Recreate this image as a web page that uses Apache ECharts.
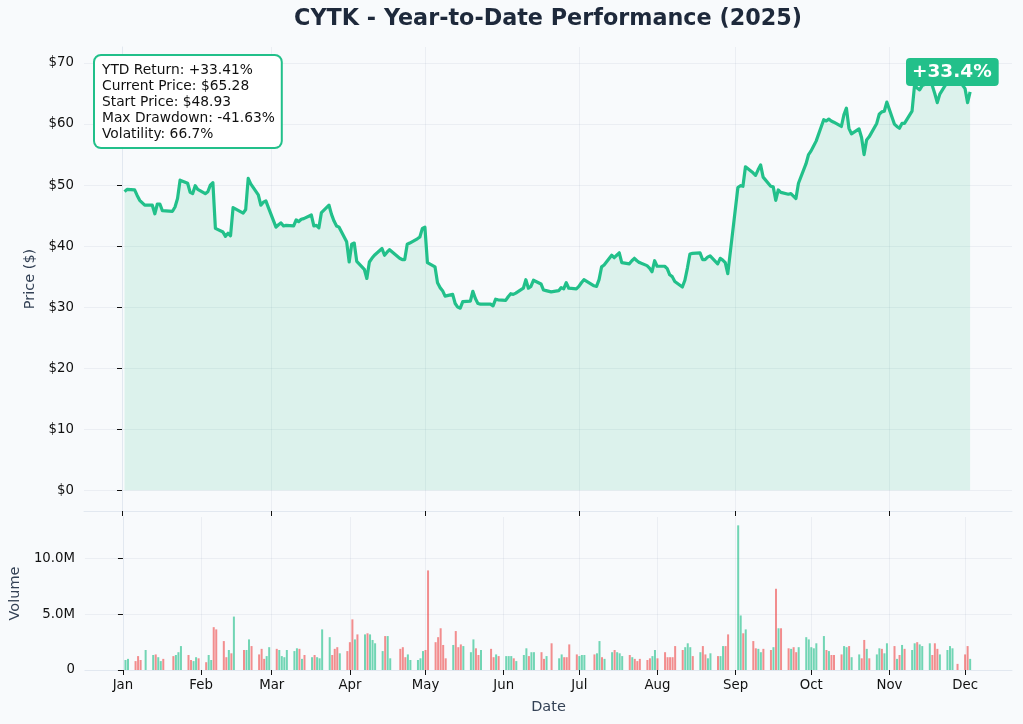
<!DOCTYPE html>
<html>
<head>
<meta charset="utf-8">
<script src="https://cdn.jsdelivr.net/npm/echarts@6/dist/echarts.min.js"></script>
<style>
html, body { margin: 0; padding: 0; background: #f8fafc; }
#chart { width: 1023px; height: 724px; }
</style>
</head>
<body>
<div id="chart"></div>
<script>
const year = 2025;
const monthNames = ['Jan', 'Feb', 'Mar', 'Apr', 'May', 'Jun', 'Jul', 'Aug', 'Sep', 'Oct', 'Nov', 'Dec'];

// trading days of each month, Jan..Dec
const tradingDays = [
    [2, 3, 6, 7, 8, 10, 13, 14, 15, 16, 17, 21, 22, 23, 24, 27, 28, 29, 30, 31],
    [3, 4, 5, 6, 7, 10, 11, 12, 13, 14, 18, 19, 20, 21, 24, 25, 26, 27, 28],
    [3, 4, 5, 6, 7, 10, 11, 12, 13, 14, 17, 18, 19, 20, 21, 24, 25, 26, 27, 28, 31],
    [1, 2, 3, 4, 7, 8, 9, 10, 11, 14, 15, 16, 17, 21, 22, 23, 24, 25, 28, 29, 30],
    [1, 2, 5, 6, 7, 8, 9, 12, 13, 14, 15, 16, 19, 20, 21, 22, 23, 27, 28, 29, 30],
    [2, 3, 4, 5, 6, 9, 10, 11, 12, 13, 16, 17, 18, 20, 23, 24, 25, 26, 27, 30],
    [1, 2, 3, 7, 8, 9, 10, 11, 14, 15, 16, 17, 18, 21, 22, 23, 24, 25, 28, 29, 30, 31],
    [1, 4, 5, 6, 7, 8, 11, 12, 13, 14, 15, 18, 19, 20, 21, 22, 25, 26, 27, 28, 29],
    [2, 3, 4, 5, 8, 9, 10, 11, 12, 15, 16, 17, 18, 19, 22, 23, 24, 25, 26, 29, 30],
    [1, 2, 3, 6, 7, 8, 9, 10, 13, 14, 15, 16, 17, 20, 21, 22, 23, 24, 27, 28, 29, 30, 31],
    [3, 4, 5, 6, 7, 10, 11, 12, 13, 14, 17, 18, 19, 20, 21, 24, 25, 26, 28],
    [1, 2, 3]
];

// closing price, one per trading day
const prices = [
    48.93, 49.3, 49.2, 48.3, 47.5, 46.7, 46.7, 45.3, 46.9, 46.9, 45.8, 45.7, 46.4, 47.8, 50.8, 50.3, 48.8, 48.6, 49.9, 49.3,
    48.6, 48.9, 50.0, 50.4, 42.9, 42.3, 41.6, 42.1, 41.7, 46.3, 45.4, 46.0, 51.1, 50.2, 48.4, 46.7, 47.2, 47.4, 46.3,
    43.1, 43.5, 43.8, 43.3, 43.4, 43.3, 44.3, 44.0, 44.4, 44.5, 45.1, 43.3, 43.4, 43.0, 45.5, 46.7, 45.2, 44.1, 43.3, 43.1, 40.7,
    37.4, 40.3, 40.5, 37.5, 36.2, 34.7, 37.4, 38.0, 38.5, 39.6, 38.5, 39.0, 39.4, 38.0, 37.8, 37.8, 40.3, 40.5, 41.2, 41.5, 42.9,
    43.1, 37.3, 36.6, 34.0, 33.2, 32.7, 31.8, 32.1, 30.6, 30.0, 29.83, 30.9, 31.0, 32.6, 31.4, 30.6, 30.5, 30.5, 30.2, 31.3, 31.2,
    31.1, 31.7, 32.2, 32.1, 32.3, 33.1, 34.5, 33.1, 33.4, 34.4, 33.8, 32.8, 32.7, 32.5, 32.7, 33.2, 33.0, 34.0, 33.1, 33.0,
    33.4, 34.0, 34.5, 33.5, 33.4, 34.5, 36.6, 36.9, 38.5, 38.1, 38.5, 38.9, 37.3, 37.1, 37.6, 38.0, 37.6, 37.3, 36.8, 36.4, 35.8, 37.6,
    36.7, 36.7, 36.3, 35.3, 35.0, 34.2, 33.3, 34.4, 36.4, 38.7, 38.8, 38.9, 37.8, 37.8, 38.2, 38.4, 37.1, 38.0, 37.7, 37.3, 35.5,
    49.6, 49.9, 49.8, 53.0, 52.0, 51.6, 52.5, 53.3, 51.3, 49.8, 49.7, 47.5, 49.2, 48.8, 48.5, 48.6, 48.2, 47.8, 50.3, 53.5, 55.0,
    55.6, 56.4, 57.2, 60.7, 60.5, 60.8, 60.5, 60.3, 59.6, 61.5, 62.6, 59.3, 58.4, 59.2, 57.8, 55.0, 57.4, 57.9, 60.1, 61.6, 62.0, 62.1, 63.6,
    60.0, 59.6, 59.3, 60.1, 60.1, 62.1, 66.4, 65.9, 65.6, 66.3, 66.8, 66.3, 65.0, 63.5, 64.9, 66.9, 67.4, 67.6, 67.5,
    65.8, 63.5, 65.28
];

// daily volume in millions
const volumesM = [
    0.9, 1.0, 0.8, 1.25, 0.9, 1.8, 1.35, 1.4, 1.15, 0.8, 1.0, 1.25, 1.35, 1.6, 2.15, 1.35, 0.9, 0.8, 1.15, 1.05,
    0.7, 1.35, 0.9, 3.85, 3.65, 2.6, 1.15, 1.8, 1.5, 4.8, 1.8, 1.8, 2.75, 2.15, 1.4, 1.9, 1.0, 1.25, 2.05,
    1.9, 1.8, 1.25, 1.15, 1.8, 1.7, 1.95, 1.9, 1.0, 1.35, 1.15, 1.35, 1.15, 1.05, 3.65, 2.95, 1.35, 1.9, 2.05, 1.5, 1.7,
    2.5, 4.55, 2.75, 3.2, 3.2, 3.3, 3.2, 2.7, 2.4, 1.7, 3.05, 3.05, 1.05, 1.9, 2.05, 1.15, 1.4, 0.9, 0.9, 1.05, 1.7,
    1.8, 8.95, 2.5, 2.95, 3.75, 2.25, 1.05, 2.25, 3.5, 2.05, 2.3, 2.15, 1.6, 2.75, 1.95, 1.35, 1.8, 1.9, 1.15, 1.4, 1.25,
    1.25, 1.25, 1.25, 1.05, 0.8, 1.35, 1.95, 1.25, 1.6, 1.6, 1.6, 1.0, 1.25, 2.4, 1.05, 1.4, 1.15, 1.15, 2.3, 1.4,
    1.25, 1.35, 1.35, 1.4, 1.5, 2.6, 1.15, 1.0, 1.6, 1.8, 1.6, 1.5, 1.25, 1.35, 1.15, 1.0, 0.8, 1.0, 0.9, 1.05, 1.25, 1.8,
    1.05, 1.6, 1.15, 1.15, 1.15, 2.15, 1.8, 2.05, 2.4, 2.05, 1.25, 1.6, 2.15, 1.4, 1.05, 1.5, 1.25, 1.25, 2.15, 2.15, 3.2,
    13.0, 4.9, 3.3, 3.65, 2.6, 1.95, 1.9, 1.6, 1.9, 1.8, 2.05, 7.3, 3.75, 3.75, 1.95, 1.9, 2.05, 1.6, 2.05, 2.95, 2.75,
    2.05, 1.95, 2.4, 3.05, 1.8, 1.7, 1.35, 1.35, 1.4, 2.15, 2.05, 2.15, 1.15, 1.4, 1.05, 2.7, 1.9, 1.05, 1.4, 1.95, 1.9, 1.5, 2.4,
    2.15, 1.0, 1.35, 2.25, 1.9, 1.8, 2.4, 2.5, 2.3, 2.15, 2.4, 1.35, 2.4, 1.9, 1.4, 1.8, 2.15, 1.95, 0.55,
    1.4, 2.15, 1.0
];

// 1 = up day (green bar), 0 = down day (red bar)
const volumeUp = [
    1, 1, 0, 0, 0, 1, 1, 0, 1, 1, 0, 0, 1, 1, 1, 0, 0, 1, 1, 0,
    0, 1, 1, 0, 0, 0, 0, 1, 0, 1, 0, 1, 1, 0, 0, 0, 0, 1, 1,
    0, 1, 1, 1, 1, 1, 1, 0, 1, 0, 1, 0, 1, 1, 1, 1, 0, 0, 0, 1, 0,
    0, 0, 1, 0, 1, 0, 1, 1, 1, 1, 0, 1, 1, 0, 0, 0, 1, 1, 1, 1, 1,
    0, 0, 0, 0, 0, 0, 0, 1, 0, 0, 0, 1, 1, 1, 0, 0, 1, 0, 0, 1, 0,
    1, 1, 1, 0, 1, 1, 1, 0, 1, 1, 0, 0, 1, 0, 1, 1, 0, 0, 0, 0,
    1, 1, 1, 0, 1, 1, 0, 1, 1, 0, 1, 1, 1, 0, 1, 0, 0, 0, 0, 0, 1, 1,
    0, 0, 0, 0, 0, 0, 0, 1, 1, 1, 0, 1, 0, 0, 1, 1, 0, 1, 1, 0, 0,
    1, 1, 0, 1, 0, 0, 1, 1, 0, 0, 1, 0, 1, 0, 0, 1, 0, 0, 1, 1, 1,
    1, 1, 1, 1, 0, 1, 0, 0, 0, 1, 1, 0, 1, 1, 0, 0, 1, 0, 1, 1, 0, 1, 1,
    0, 1, 0, 1, 0, 1, 1, 0, 1, 1, 1, 0, 0, 0, 1, 1, 1, 1, 0,
    0, 0, 1
];

const priceTicks = [0, 10, 20, 30, 40, 50, 60, 70];
const volumeTicks = [0, 5e6, 10e6];
const statsLines = [
    'YTD Return: +33.41%',
    'Current Price: $65.28',
    'Start Price: $48.93',
    'Max Drawdown: -41.63%',
    'Volatility: 66.7%'
];
const returnLabel = '+33.4%';

const DAY = 86400000;
const GREEN = '#22c08a';
const FONT = 'DejaVu Sans';
const yearStart = Date.UTC(year, 0, 1);

// x positions are days since Jan 1
const dayOf = (m, d) => (Date.UTC(year, m, d) - yearStart) / DAY;
const days = [];
tradingDays.forEach((list, m) => list.forEach(d => days.push(dayOf(m, d))));

const monthStarts = monthNames.map((_, m) => dayOf(m, 1));
const oddMonthStarts = monthStarts.filter((_, m) => m % 2 === 0);
const xMin = -15.06;
const xMax = 352.6;

const gridColor = 'rgba(148,163,184,0.13)';
const spineColor = '#e2e8f0';

function dayAxis(gridIndex, showLabels) {
    const ticks = showLabels ? monthStarts : oddMonthStarts;
    return {
        type: 'value',
        gridIndex: gridIndex,
        min: xMin,
        max: xMax,
        axisLine: { show: true, onZero: false, lineStyle: { color: spineColor, width: 1 } },
        axisTick: { show: true, length: 5, customValues: ticks, lineStyle: { color: '#111' } },
        axisLabel: {
            show: showLabels,
            customValues: ticks,
            color: '#111',
            fontFamily: FONT,
            fontSize: 13.3,
            margin: 9,
            formatter: v => monthNames[monthStarts.indexOf(v)]
        },
        splitLine: { show: true, lineStyle: { color: gridColor } },
        name: showLabels ? 'Date' : '',
        nameLocation: 'middle',
        nameGap: 30,
        nameTextStyle: { color: '#334155', fontFamily: FONT, fontSize: 14.5 }
    };
}

const chart = echarts.init(document.getElementById('chart'));

chart.setOption({
    backgroundColor: '#f8fafc',
    animation: false,
    grid: [
        { left: 84, right: 11, top: 47, height: 464 },
        { left: 84, right: 11, top: 517, height: 153 }
    ],
    xAxis: [dayAxis(0, false), dayAxis(1, true)],
    yAxis: [
        {
            type: 'value',
            gridIndex: 0,
            min: -3.4,
            max: 72.62,
            axisLine: { show: true, lineStyle: { color: spineColor } },
            axisTick: { show: true, length: 5, customValues: priceTicks, lineStyle: { color: '#111' } },
            axisLabel: {
                customValues: priceTicks,
                color: '#111',
                fontFamily: FONT,
                fontSize: 13.3,
                margin: 10,
                formatter: v => '$' + v
            },
            splitLine: { show: true, lineStyle: { color: gridColor } },
            name: 'Price ($)',
            nameLocation: 'middle',
            nameGap: 45,
            nameTextStyle: { color: '#334155', fontFamily: FONT, fontSize: 14.5 }
        },
        {
            type: 'value',
            gridIndex: 1,
            min: 0,
            max: 13.75e6,
            axisLine: { show: true, lineStyle: { color: spineColor } },
            axisTick: { show: true, length: 5, customValues: volumeTicks, lineStyle: { color: '#111' } },
            axisLabel: {
                customValues: volumeTicks,
                color: '#111',
                fontFamily: FONT,
                fontSize: 13.3,
                margin: 10,
                formatter: v => v === 0 ? '0' : (v / 1e6).toFixed(1) + 'M'
            },
            splitLine: { show: true, lineStyle: { color: gridColor } },
            name: 'Volume',
            nameLocation: 'middle',
            nameGap: 60,
            nameTextStyle: { color: '#334155', fontFamily: FONT, fontSize: 14.5 }
        }
    ],
    series: [
        {
            type: 'line',
            xAxisIndex: 0,
            yAxisIndex: 0,
            symbol: 'none',
            data: days.map((x, i) => [x, prices[i]]),
            lineStyle: { color: GREEN, width: 3.2, join: 'round' },
            areaStyle: { color: 'rgba(34,192,138,0.19)' },
            z: 3
        },
        {
            type: 'bar',
            xAxisIndex: 1,
            yAxisIndex: 1,
            barWidth: 2,
            data: days.map((x, i) => ({
                value: [x, volumesM[i] * 1e6],
                itemStyle: { color: volumeUp[i] ? 'rgba(34,192,138,0.63)' : 'rgba(239,68,68,0.6)' }
            }))
        }
    ],
    graphic: [
        {
            type: 'text',
            x: 548,
            y: 19,
            style: {
                text: 'CYTK - Year-to-Date Performance (2025)',
                fill: '#1e293b',
                font: 'bold 22.3px "DejaVu Sans"',
                align: 'center',
                verticalAlign: 'middle'
            }
        },
        {
            type: 'text',
            x: 95,
            y: 56,
            z: 10,
            style: {
                text: statsLines.join('\n'),
                fill: '#111',
                font: '13.8px "DejaVu Sans"',
                lineHeight: 16,
                backgroundColor: '#ffffff',
                borderColor: GREEN,
                borderWidth: 2,
                borderRadius: 6,
                padding: [6, 6, 5, 7]
            }
        },
        {
            type: 'text',
            x: 906,
            y: 58,
            z: 10,
            style: {
                text: returnLabel,
                fill: '#ffffff',
                font: 'bold 18.5px "DejaVu Sans"',
                backgroundColor: GREEN,
                borderRadius: 4,
                padding: [5, 7, 4, 6]
            }
        }
    ]
});
</script>
</body>
</html>
